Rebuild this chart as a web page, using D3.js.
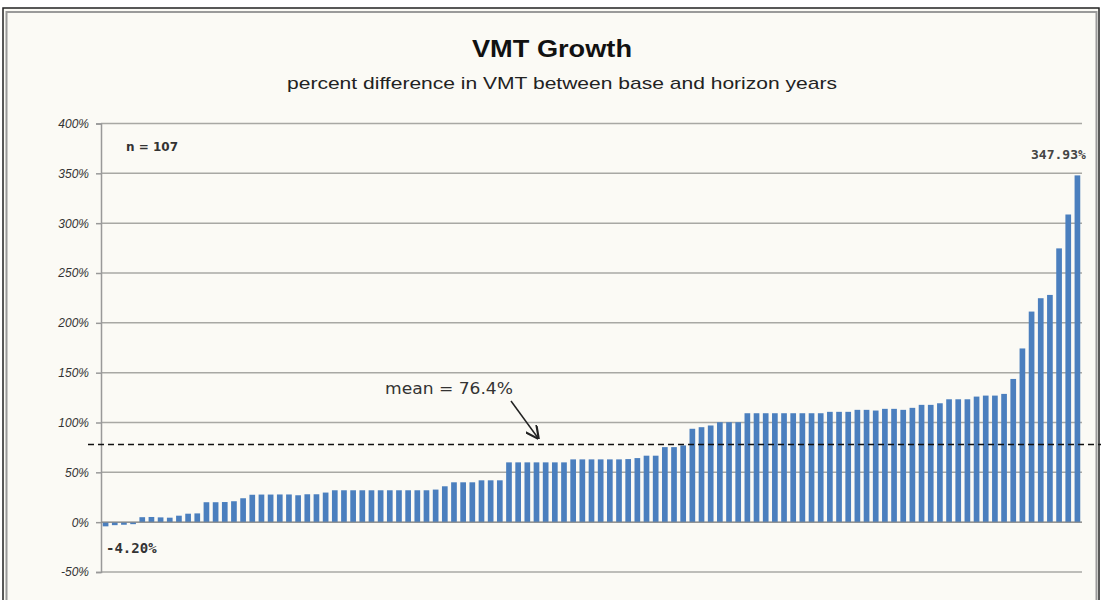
<!DOCTYPE html>
<html>
<head>
<meta charset="utf-8">
<script src="https://cdn.jsdelivr.net/npm/d3@7"></script>
<style>
  html, body { margin: 0; padding: 0; background: #ffffff; }
  svg { display: block; }
</style>
</head>
<body>
<svg id="chart" width="1101" height="600"></svg>
<script>
// ---- data ----
const growth = [
  -4.2, -3.0, -2.6, -2.0, 5.0, 5.2, 4.8, 4.5, 6.5, 8.5,
  8.8, 20.0, 20.0, 20.2, 21.0, 24.0, 27.5, 27.7, 27.7, 27.8,
  27.8, 27.0, 28.0, 28.0, 29.7, 32.0, 32.0, 32.0, 32.0, 32.0,
  32.0, 32.0, 32.0, 32.0, 32.0, 32.0, 32.7, 36.0, 40.0, 40.0,
  40.0, 42.0, 42.0, 42.0, 60.0, 60.0, 60.0, 60.0, 60.0, 60.0,
  60.0, 63.0, 63.0, 63.0, 63.0, 63.0, 63.0, 63.3, 64.3, 66.7,
  66.7, 75.3, 75.3, 77.0, 93.7, 95.3, 97.0, 100.3, 100.3, 100.3,
  109.3, 109.3, 109.3, 109.3, 109.3, 109.3, 109.3, 109.3, 109.3, 110.7,
  110.7, 110.7, 112.7, 112.7, 112.0, 113.7, 113.7, 112.7, 114.7, 117.7,
  117.7, 119.3, 123.3, 123.3, 123.3, 126.0, 127.0, 127.0, 128.7, 143.7,
  174.3, 211.3, 224.7, 228.0, 274.7, 308.7, 347.93
];
const yTicks = [-50, 0, 50, 100, 150, 200, 250, 300, 350, 400];
const meanValue = 76.4;
const titleText = "VMT Growth";
const subtitleText = "percent difference in VMT between base and horizon years";
const nText = "n = 107";
const maxLabel = "347.93%";
const minLabel = "-4.20%";
const meanLabel = "mean = 76.4%";

// ---- layout ----
const svg = d3.select("#chart");
const pLeft = 101, pRight = 1082, pTop = 123.5, pBottom = 572;

svg.append("rect").attr("x", 0).attr("y", 0).attr("width", 1101).attr("height", 600).attr("fill", "#ffffff");
svg.append("rect").attr("x", 3).attr("y", 8).attr("width", 1096).attr("height", 600)
  .attr("fill", "#fbfaf5").attr("stroke", "#222").attr("stroke-width", 1.5);
svg.append("rect").attr("x", 6.5).attr("y", 12).attr("width", 1090).attr("height", 600)
  .attr("fill", "none").attr("stroke", "#9a9a9a").attr("stroke-width", 2);

const y = d3.scaleLinear().domain([-50, 400]).range([pBottom, pTop]);
const x = d3.scaleBand().domain(growth.map((d, i) => i)).range([pLeft, pRight]).paddingInner(0.38).paddingOuter(0.19);

// gridlines
svg.append("g").selectAll("line").data(yTicks).join("line")
  .attr("x1", pLeft).attr("x2", pRight)
  .attr("y1", d => y(d)).attr("y2", d => y(d))
  .attr("stroke", "#a8a8a4").attr("stroke-width", 1.5);

// y axis
const yAxis = d3.axisLeft(y).tickValues(yTicks).tickSize(5).tickPadding(7).tickFormat(d => d + "%");
const ga = svg.append("g").attr("transform", `translate(${pLeft},0)`).call(yAxis);
ga.select(".domain").attr("stroke", "#999").attr("stroke-width", 1.5);
ga.selectAll(".tick line").attr("stroke", "#999").attr("stroke-width", 1.5);
ga.selectAll(".tick text").attr("font-family", "Liberation Sans, Arial, sans-serif")
  .attr("font-size", 12).attr("font-style", "italic").attr("fill", "#333");

// bars
svg.append("g").selectAll("rect").data(growth).join("rect")
  .attr("x", (d, i) => x(i))
  .attr("width", x.bandwidth())
  .attr("y", d => Math.min(y(d), y(0)))
  .attr("height", d => Math.max(1.5, Math.abs(y(d) - y(0))))
  .attr("fill", "#4b7fbe");

// baseline
svg.append("line").attr("x1", pLeft).attr("x2", pRight).attr("y1", y(0)).attr("y2", y(0))
  .attr("stroke", "#8a8a8a").attr("stroke-width", 1);

// mean dashed line
svg.append("line").attr("x1", 88).attr("x2", 1101).attr("y1", y(meanValue) - 1.5).attr("y2", y(meanValue) - 1.5)
  .attr("stroke", "#111").attr("stroke-width", 1.5).attr("stroke-dasharray", "6,4");

// titles
svg.append("text").attr("x", 552).attr("y", 57).attr("text-anchor", "middle")
  .attr("font-family", "Liberation Sans, Arial, sans-serif").attr("font-weight", "bold").attr("font-size", 23)
  .attr("fill", "#111").attr("textLength", 160).attr("lengthAdjust", "spacingAndGlyphs").text(titleText);
svg.append("text").attr("x", 562).attr("y", 89).attr("text-anchor", "middle")
  .attr("font-family", "Liberation Sans, Arial, sans-serif").attr("font-size", 17)
  .attr("fill", "#222").attr("textLength", 550).attr("lengthAdjust", "spacingAndGlyphs").text(subtitleText);

// annotations
svg.append("text").attr("x", 126).attr("y", 151)
  .attr("font-family", "DejaVu Sans, sans-serif").attr("font-weight", "bold").attr("font-size", 12)
  .attr("fill", "#333").text(nText);
svg.append("text").attr("x", 1031).attr("y", 159)
  .attr("font-family", "DejaVu Sans Mono, monospace").attr("font-weight", "bold").attr("font-size", 13)
  .attr("fill", "#444").text(maxLabel);
svg.append("text").attr("x", 106).attr("y", 553)
  .attr("font-family", "DejaVu Sans Mono, monospace").attr("font-weight", "bold").attr("font-size", 14)
  .attr("fill", "#333").text(minLabel);
svg.append("text").attr("x", 385).attr("y", 394)
  .attr("font-family", "DejaVu Sans, sans-serif").attr("font-size", 15)
  .attr("fill", "#333").attr("textLength", 128).attr("lengthAdjust", "spacingAndGlyphs").text(meanLabel);

// arrow
const defs = svg.append("defs");
defs.append("marker").attr("id", "arr").attr("viewBox", "0 0 10 10").attr("refX", 9).attr("refY", 5)
  .attr("markerWidth", 9).attr("markerHeight", 9).attr("orient", "auto")
  .append("path").attr("d", "M0,0 L10,5 L0,10").attr("fill", "none").attr("stroke", "#222").attr("stroke-width", 1.6);
svg.append("line").attr("x1", 511).attr("y1", 401).attr("x2", 538).attr("y2", 438)
  .attr("stroke", "#222").attr("stroke-width", 1.5).attr("marker-end", "url(#arr)");
</script>
</body>
</html>
